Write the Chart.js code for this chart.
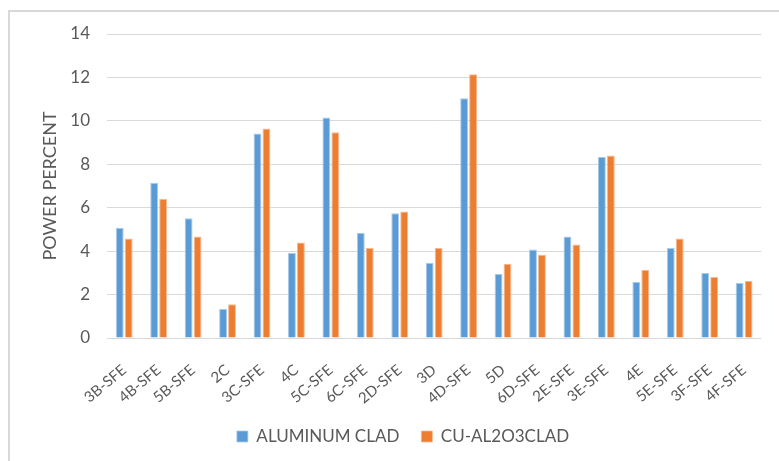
<!DOCTYPE html>
<html>
<head>
<meta charset="utf-8">
<script src="https://cdn.jsdelivr.net/npm/chart.js@4/dist/chart.umd.min.js"></script>
<style>
  html, body { margin: 0; padding: 0; background: #ffffff; }
  #wrap { width: 779px; height: 461px; }
</style>
</head>
<body>
<div id="wrap"><canvas id="chart" width="779" height="461"></canvas></div>
<script>
// Test cases along the x axis
const categories = [
  '3B-SFE', '4B-SFE', '5B-SFE', '2C', '3C-SFE', '4C', '5C-SFE', '6C-SFE', '2D-SFE', '3D',
  '4D-SFE', '5D', '6D-SFE', '2E-SFE', '3E-SFE', '4E', '5E-SFE', '3F-SFE', '4F-SFE'
];

// Power percent per case, one array per cladding
const aluminumClad = [
  5.08, 7.15, 5.51, 1.33, 9.42, 3.92, 10.15, 4.85, 5.74, 3.47,
  11.04, 2.95, 4.08, 4.67, 8.35, 2.58, 4.15, 2.99, 2.53
];
const cuAl2o3Clad = [
  4.58, 6.40, 4.67, 1.56, 9.65, 4.40, 9.47, 4.15, 5.83, 4.15,
  12.15, 3.42, 3.83, 4.31, 8.40, 3.13, 4.58, 2.81, 2.63
];

// Value axis range
const yMin = 0;
const yMax = 14;
const yStep = 2;

const textColor = '#595959';
const gridColor = '#d9d9d9';
const fontFamily = 'Lato, "Open Sans", sans-serif';

// White page background and the light chart frame
const framePlugin = {
  id: 'frame',
  beforeDraw(chart) {
    const ctx = chart.ctx;
    ctx.save();
    ctx.fillStyle = '#ffffff';
    ctx.fillRect(0, 0, chart.width, chart.height);
    ctx.strokeStyle = '#d9d9d9';
    ctx.lineWidth = 2;
    ctx.strokeRect(9, 11, chart.width + 20, chart.height + 20);
    ctx.restore();
  }
};

new Chart(document.getElementById('chart'), {
  type: 'bar',
  data: {
    labels: categories,
    datasets: [
      {
        label: 'ALUMINUM CLAD',
        data: aluminumClad,
        backgroundColor: '#5b9bd5',
        borderColor: '#a9cbea',
        borderWidth: { top: 1, left: 1, right: 1, bottom: 0 },
        categoryPercentage: 0.52,
        barPercentage: 0.88
      },
      {
        label: 'CU-AL2O3CLAD',
        data: cuAl2o3Clad,
        backgroundColor: '#ed7d31',
        borderColor: '#f5b891',
        borderWidth: { top: 1, left: 1, right: 1, bottom: 0 },
        categoryPercentage: 0.52,
        barPercentage: 0.88
      }
    ]
  },
  options: {
    responsive: false,
    animation: false,
    devicePixelRatio: 1,
    layout: { padding: { left: 39, right: 12, top: 34, bottom: 6 } },
    plugins: {
      title: { display: false },
      tooltip: { enabled: false },
      legend: {
        position: 'bottom',
        labels: {
          boxWidth: 11,
          boxHeight: 11,
          padding: 22,
          color: textColor,
          font: { family: fontFamily, size: 17 }
        }
      }
    },
    scales: {
      x: {
        grid: { display: false, drawTicks: false },
        border: { display: false },
        ticks: {
          autoSkip: false,
          minRotation: 40,
          maxRotation: 40,
          padding: 23,
          color: textColor,
          font: { family: fontFamily, size: 15 }
        },
        afterFit(scale) { scale.height = 68; }
      },
      y: {
        min: yMin,
        max: yMax,
        grid: { color: gridColor, lineWidth: 1, drawTicks: false },
        border: { display: false },
        ticks: {
          stepSize: yStep,
          padding: 17,
          color: textColor,
          font: { family: fontFamily, size: 17 }
        },
        title: {
          display: true,
          text: 'POWER PERCENT',
          color: textColor,
          padding: { top: 0, bottom: 0 },
          font: { family: fontFamily, size: 18 }
        },
        afterFit(scale) { scale.width = 68; }
      }
    }
  },
  plugins: [framePlugin]
});
</script>
</body>
</html>
